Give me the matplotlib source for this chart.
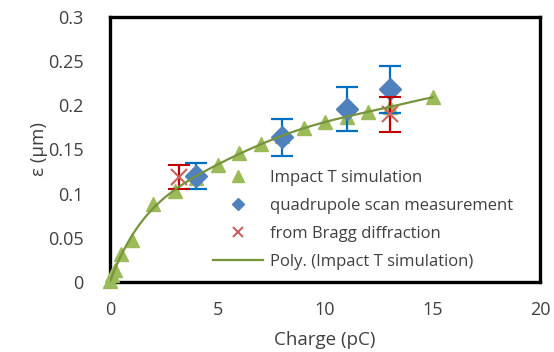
import numpy as np
import matplotlib.pyplot as plt
from matplotlib.lines import Line2D

# Impact T simulation
sim_q = [0, 0.1, 0.25, 0.5, 1, 2, 3, 4, 5, 6, 7, 8, 9, 10, 11, 12, 13, 15]
sim_eps = [0.001, 0.008, 0.014, 0.032, 0.047, 0.088, 0.103, 0.118, 0.133,
           0.146, 0.156, 0.165, 0.174, 0.181, 0.187, 0.193, 0.198, 0.209]

# quadrupole scan measurement
quad_q = [4, 8, 11, 13]
quad_eps = [0.120, 0.164, 0.196, 0.218]
quad_err = [0.015, 0.021, 0.025, 0.027]

# from Bragg diffraction
bragg_q = [3.2, 13]
bragg_eps = [0.119, 0.190]
bragg_err = [0.014, 0.020]

plt.rcParams['font.family'] = ['Open Sans', 'DejaVu Sans']

fig = plt.figure(figsize=(5.54, 3.52), dpi=100)
ax = fig.add_axes([110 / 554, 70 / 352, 430 / 554, 265 / 352])

ax.plot(sim_q, sim_eps, '^', color='#9BBB59', ms=10, ls='none',
        clip_on=False, zorder=3)

ax.errorbar(quad_q, quad_eps, yerr=quad_err, fmt='D', color='#4F81BD',
            ms=11, ecolor='#0070C0', elinewidth=1.6, capsize=8, capthick=1.6,
            zorder=4)

ax.errorbar(bragg_q, bragg_eps, yerr=bragg_err, fmt='x', color='#D0605D',
            ms=12, mew=1.5, ecolor='#C00000', elinewidth=1.6, capsize=8,
            capthick=1.6, zorder=5)

# polynomial trendline like Excel's "Poly." (order 6)
coef = np.polyfit(sim_q, sim_eps, 6)
xs = np.linspace(0, 15, 300)
ax.plot(xs, np.polyval(coef, xs), color='#77933C', lw=1.6, zorder=6)

ax.set_xlim(0, 20)
ax.set_ylim(0, 0.3)
ax.set_xticks([0, 5, 10, 15, 20])
ax.set_yticks([0, 0.05, 0.1, 0.15, 0.2, 0.25, 0.3])
ax.set_yticklabels(['0', '0.05', '0.1', '0.15', '0.2', '0.25', '0.3'])
ax.tick_params(axis='y', length=0, labelsize=13, colors='#404040', pad=19)
ax.tick_params(axis='x', length=0, labelsize=13, colors='#404040', pad=14)
for s in ax.spines.values():
    s.set_linewidth(2.4)
    s.set_color('black')

ax.set_xlabel('Charge (pC)', fontsize=13.5, color='#404040', labelpad=8)
ax.set_ylabel('ε (µm)', fontsize=13.5, color='#404040', labelpad=0)

handles = [
    Line2D([], [], marker='^', color='#9BBB59', ms=8, ls='none'),
    Line2D([], [], marker='D', color='#4F81BD', ms=6.5, ls='none'),
    Line2D([], [], marker='x', color='#D0605D', ms=6.5, mew=1.5, ls='none'),
    Line2D([], [], color='#77933C', lw=1.6),
]
labels = ['Impact T simulation', 'quadrupole scan measurement',
          'from Bragg diffraction', 'Poly. (Impact T simulation)']
ax.legend(handles, labels,
          loc='center left', bbox_to_anchor=(213 / 554, 1 - 220 / 352),
          bbox_transform=fig.transFigure, frameon=False, fontsize=12,
          handlelength=3.0, handletextpad=0.4, labelspacing=0.72,
          borderpad=0, borderaxespad=0, labelcolor='#404040')

fig.savefig('out.png', dpi=100)
